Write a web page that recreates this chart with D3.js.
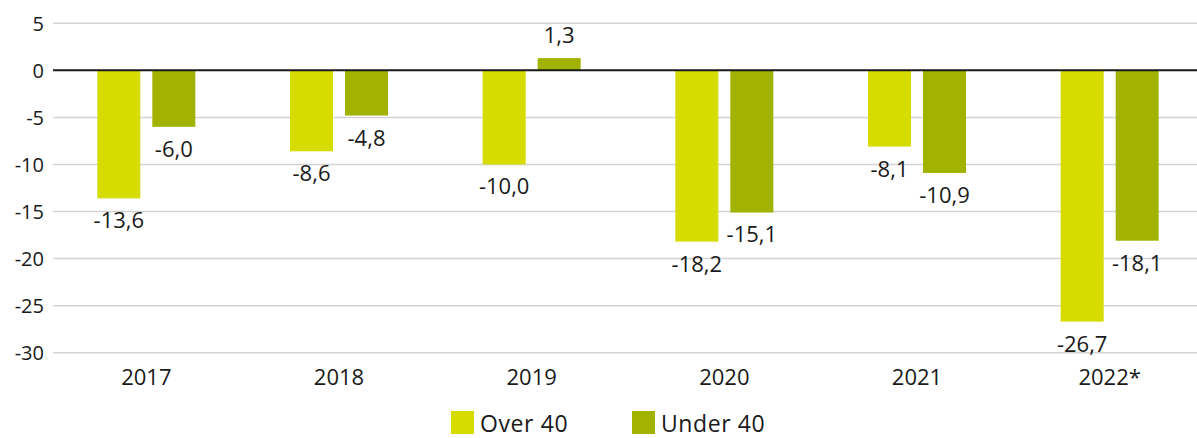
<!DOCTYPE html>
<html>
<head>
<meta charset="utf-8">
<script src="https://cdn.jsdelivr.net/npm/d3@7"></script>
<style>
  html, body { margin: 0; padding: 0; background: #fff; }
  svg { display: block; font-family: "Open Sans", "Noto Sans", sans-serif; }
</style>
</head>
<body>
<svg id="chart" width="1197" height="438"></svg>
<script>
// Annual change by age group, per cent
const years = ["2017", "2018", "2019", "2020", "2021", "2022*"];
const seriesNames = ["Over 40", "Under 40"];
const over40 = [-13.6, -8.6, -10.0, -18.2, -8.1, -26.7];
const under40 = [-6.0, -4.8, 1.3, -15.1, -10.9, -18.1];
const yTicks = [5, 0, -5, -10, -15, -20, -25, -30];

const colors = { "Over 40": "#d6db00", "Under 40": "#a2b200" };
const rows = years.map((y, i) => ({ year: y, "Over 40": over40[i], "Under 40": under40[i] }));

const svg = d3.select("#chart");
const W = 1197;

const x = d3.scaleBand().domain(years).range([50, 1206]).paddingInner(0).paddingOuter(0);
const bw = x.bandwidth();
const xs = d3.scaleBand().domain(seriesNames)
  .range([bw / 2 - 49, bw / 2 + 49]).paddingInner(12 / 55).paddingOuter(0);
const y = d3.scaleLinear().domain([-30, 5]).range([352.7, 23.3]);

const fmt = v => v.toFixed(1).replace(".", ",");

// Gridlines
svg.append("g")
  .selectAll("line").data(yTicks.filter(t => t !== 0)).join("line")
  .attr("x1", 53).attr("x2", W)
  .attr("y1", d => y(d)).attr("y2", d => y(d))
  .attr("stroke", "#d3d3d3").attr("stroke-width", 1.5);

// Y axis labels
const yAxis = d3.axisLeft(y).tickValues(yTicks).tickSize(0).tickPadding(0)
  .tickFormat(d => String(d));
const gy = svg.append("g").attr("transform", "translate(44,0)").call(yAxis);
gy.select(".domain").remove();
gy.selectAll("text")
  .attr("font-size", 20).attr("fill", "#1a1a1a")
  .attr("font-family", "'Open Sans', sans-serif")
  .attr("dy", "0.36em");

// Bars
const groups = svg.append("g").selectAll("g").data(rows).join("g")
  .attr("transform", d => `translate(${x(d.year)},0)`);

groups.selectAll("rect")
  .data(d => seriesNames.map(k => ({ key: k, value: d[k] })))
  .join("rect")
  .attr("x", d => xs(d.key))
  .attr("width", xs.bandwidth())
  .attr("y", d => y(Math.max(0, d.value)))
  .attr("height", d => Math.abs(y(d.value) - y(0)))
  .attr("fill", d => colors[d.key]);

// Value labels
groups.selectAll("text.val")
  .data(d => seriesNames.map(k => ({ key: k, value: d[k] })))
  .join("text")
  .attr("class", "val")
  .attr("x", d => xs(d.key) + xs.bandwidth() / 2)
  .attr("y", d => d.value < 0 ? y(d.value) + 30 : y(d.value) - 15)
  .attr("text-anchor", "middle")
  .attr("font-size", 22)
  .attr("fill", "#1a1a1a")
  .text(d => fmt(d.value));

// Zero line
svg.append("line")
  .attr("x1", 53).attr("x2", W)
  .attr("y1", y(0)).attr("y2", y(0))
  .attr("stroke", "#1a1a1a").attr("stroke-width", 2);

// X axis labels
const xAxis = d3.axisBottom(x).tickSize(0).tickPadding(0);
const gx = svg.append("g").attr("transform", "translate(0,385)").call(xAxis);
gx.select(".domain").remove();
gx.selectAll("text")
  .attr("font-size", 22).attr("fill", "#1a1a1a")
  .attr("font-family", "'Open Sans', sans-serif")
  .attr("dy", 0);

// Legend
const legendPos = [451, 632];
const lg = svg.append("g").selectAll("g").data(seriesNames).join("g")
  .attr("transform", (d, i) => `translate(${legendPos[i]},411)`);
lg.append("rect").attr("width", 23).attr("height", 23).attr("fill", d => colors[d]);
lg.append("text").attr("x", 29).attr("y", 21)
  .attr("font-size", 23).attr("letter-spacing", 0.6)
  .attr("fill", "#1a1a1a").text(d => d);
</script>
</body>
</html>
